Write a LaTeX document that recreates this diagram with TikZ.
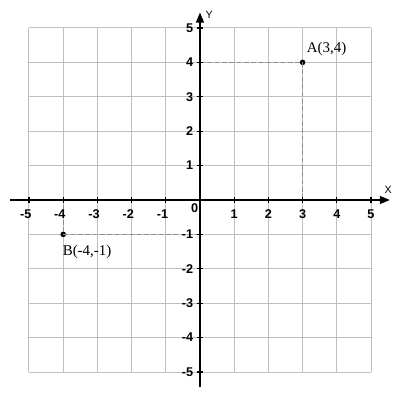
\documentclass[tikz,border=0pt]{standalone}
\usepackage{fontspec}
\setmainfont{Liberation Serif}
\newfontfamily\numfont{Liberation Sans}
\usetikzlibrary{arrows.meta}
\tikzset{
  gridline/.style={draw=black!25, line width=0.75pt},
  axisline/.style={draw=black, line width=0.9pt},
  guide/.style={draw=black!45, line width=0.75pt, dash pattern=on 3.5pt off 2pt},
  numlab/.style={font=\numfont\bfseries\fontsize{9.5}{10}\selectfont, inner sep=0pt},
  axlab/.style={font=\numfont\fontsize{8}{9}\selectfont, inner sep=0pt},
  ptlab/.style={font=\fontsize{11.2}{12}\selectfont, inner sep=0pt},
  dot/.style={circle, fill=black, inner sep=0pt, minimum size=4.2pt}
}
\begin{document}
\begin{tikzpicture}[x=25.65pt, y=25.8pt]
\useasboundingbox (-5.848,-5.814) rectangle (5.848,5.814);
\fill[white] (-5.848,-5.814) rectangle (5.848,5.814);
% grid
\foreach \i in {-5,...,5} {
  \draw[gridline] (\i,-5) -- (\i,5);
  \draw[gridline] (-5,\i) -- (5,\i);
}
% guides
\coordinate (A0x) at (0,4);
\coordinate (A0y) at (3,0);
\coordinate (B0x) at (0,-1);
\coordinate (B0y) at (-4,0);
\node[dot] (A) at (3,4) {};
\node[dot] (B) at (-4,-1) {};
\draw[guide] (A0x) -- (A.center) -- (A0y);
\draw[guide] (B0x) -- (B.center) -- (B0y);
% axes
\coordinate (xl) at (-5.55,0);
\coordinate (xr) at (5.55,0);
\coordinate (yb) at (0,-5.45);
\coordinate (yt) at (0,5.45);
\draw[axisline, -{Triangle[length=7.5pt,width=6pt]}] (xl) -- (xr);
\draw[axisline, -{Triangle[length=7.5pt,width=6pt]}] (yb) -- (yt);
% ticks
\foreach \i in {-5,...,-1,1,2,3,4,5} {
  \draw[axisline] (\i,-0.09) -- (\i,0.09);
  \draw[axisline] (-0.09,\i) -- (0.09,\i);
}
% labels
\foreach \i in {1,...,5} {
  \node[numlab] (xn\i) at ([yshift=-10.5pt]\i,0) {\i};
  \node[numlab, anchor=east] (yn\i) at ([xshift=-5pt]0,\i) {\i};
}
\foreach \i in {1,...,5} {
  \node[numlab] (xm\i) at ([yshift=-10.5pt,xshift=-2.5pt]-\i,0) {-\i};
  \node[numlab, anchor=east] (ym\i) at ([xshift=-5pt]0,-\i) {-\i};
}
\node[numlab] (zero) at ([xshift=-4pt,yshift=-6pt]0,0) {0};
\node[axlab] (X) at (5.5,0.31) {X};
\node[axlab] (Y) at (0.27,5.38) {Y};
% point labels
\node[ptlab, anchor=west] (Alab) at ([xshift=3pt,yshift=10pt]A.center) {A(3,4)};
\node[ptlab, anchor=west] (Blab) at ([xshift=-0.5pt,yshift=-13.5pt]B.center) {B(-4,-1)};
\end{tikzpicture}
\end{document}
